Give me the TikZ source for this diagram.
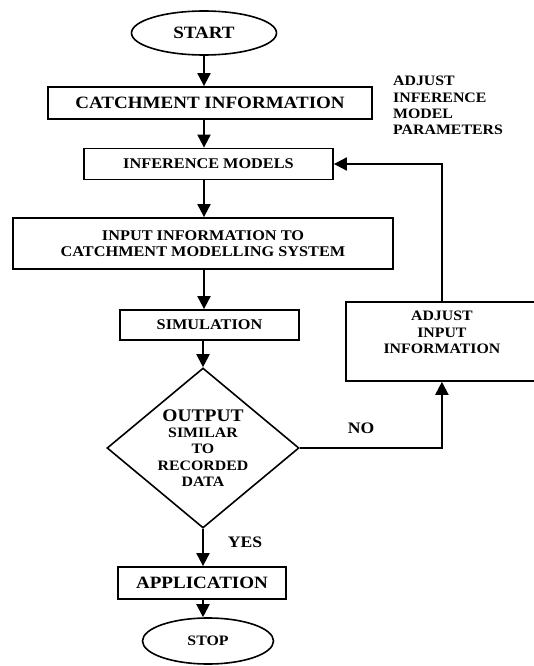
\documentclass[tikz,border=0pt]{standalone}
\usepackage{fontspec}
\newfontfamily\chartfont{Liberation Serif}[FakeStretch=1.1]
\usepackage{tikz}
\usetikzlibrary{shapes.geometric, arrows.meta, positioning, calc}

\begin{document}
\begin{tikzpicture}[
    x=1pt, y=-1pt,
    every node/.style={font=\chartfont\bfseries},
    procbox/.style={draw, line width=1.8pt, inner sep=0pt, align=center},
    termnode/.style={draw, ellipse, line width=1.6pt, inner sep=0pt},
    decnode/.style={draw, diamond, line width=1.6pt, inner sep=0pt, aspect=1.2, align=center},
    arrow/.style={-{Triangle[width=13pt,length=13pt]}, line width=2pt},
    big/.style={font=\chartfont\bfseries\fontsize{17.3}{20}\selectfont},
    mid/.style={font=\chartfont\bfseries\fontsize{14.8}{16.5}\selectfont},
    small/.style={font=\chartfont\bfseries\fontsize{14.4}{16.3}\selectfont}
]
    \useasboundingbox (0,0) rectangle (534,666);

    % Terminals
    \node[termnode, big, minimum width=145pt, minimum height=44pt] (start) at (204,33) {START};
    \node[termnode, small, minimum width=131pt, minimum height=46pt] (stop) at (208,641) {STOP};

    % Process boxes
    \node[procbox, big, minimum width=324pt, minimum height=32pt] (catch) at (210,103) {CATCHMENT INFORMATION};
    \node[procbox, mid, minimum width=249pt, minimum height=31pt] (infer) at (208.5,164) {INFERENCE MODELS};
    \node[procbox, mid, minimum width=380pt, minimum height=51pt] (input) at (203,243.5) {INPUT INFORMATION TO\\CATCHMENT MODELLING SYSTEM};
    \node[procbox, mid, minimum width=179pt, minimum height=30pt] (sim) at (209.5,325) {SIMULATION};
    \node[procbox, big, minimum width=168pt, minimum height=32pt] (appl) at (202,583) {APPLICATION};
    \node[procbox, small, minimum width=192pt, minimum height=79pt, anchor=north west] (adjin) at (345,301) {ADJUST\\INPUT\\INFORMATION\\[2pt]\mbox{}};

    % Decision
    \node[decnode, small, minimum width=192pt, minimum height=160pt] (dec) at (203,448)
        {{\fontsize{17.7}{19}\selectfont OUTPUT}\\SIMILAR\\TO\\RECORDED\\DATA};

    % Side note
    \node[small, align=left, anchor=north west, inner sep=0pt] (note) at (393,76) {ADJUST\\INFERENCE\\MODEL\\PARAMETERS};

    % Arrows
    \draw[arrow] (start.south) -- (start.south |- catch.north);
    \draw[arrow] (start.south |- catch.south) -- (start.south |- infer.north);
    \draw[arrow] (start.south |- infer.south) -- (start.south |- input.north);
    \draw[arrow] (start.south |- input.south) -- (start.south |- sim.north);
    \draw[arrow] (dec.north |- sim.south) -- (dec.north);
    \draw[arrow] (dec.south) -- (dec.south |- appl.north);
    \draw[arrow] (dec.south |- appl.south) -- (dec.south |- stop.north);
    \draw[arrow] (dec.east) -| (adjin.south);
    \draw[arrow] (adjin.north) |- (infer.east);

    % Labels
    \node[mid, font=\chartfont\bfseries\fontsize{16}{18}\selectfont] (no) at (361,428) {NO};
    \node[mid, font=\chartfont\bfseries\fontsize{16}{18}\selectfont] (yes) at (245,542) {YES};
\end{tikzpicture}
\end{document}
